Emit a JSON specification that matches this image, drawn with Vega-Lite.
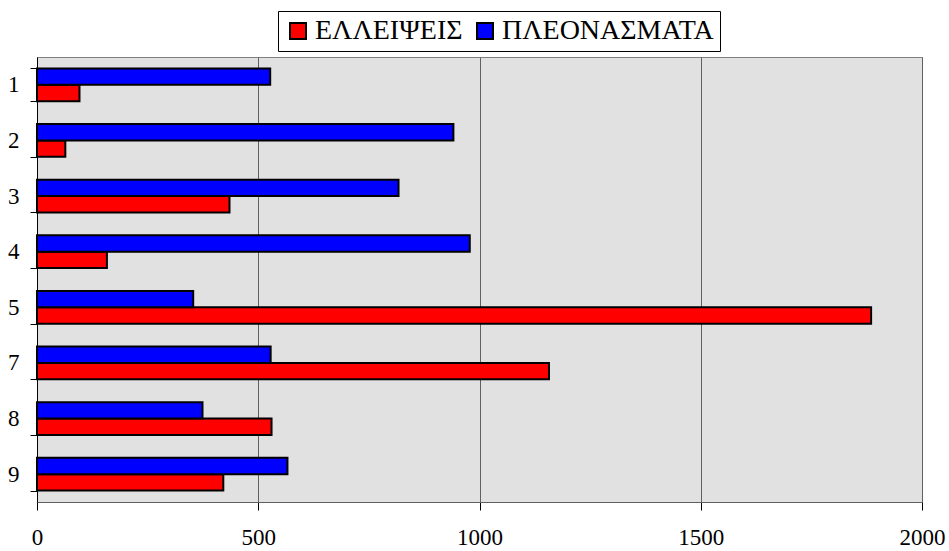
{
  "$schema": "https://vega.github.io/schema/vega-lite/v6.json",
  "autosize": {"type": "none"},
  "padding": {"left": 37, "top": 57, "right": 27, "bottom": 49},
  "width": 885,
  "height": 445,
  "background": "white",
  "config": {
    "view": {"fill": "#e1e1e1", "stroke": "#808080", "strokeWidth": 1},
    "font": "Liberation Serif"
  },
  "data": {
    "values": [
      {"cat": "1", "series": "ΕΛΛΕΙΨΕΙΣ", "value": 96},
      {"cat": "1", "series": "ΠΛΕΟΝΑΣΜΑΤΑ", "value": 527},
      {"cat": "2", "series": "ΕΛΛΕΙΨΕΙΣ", "value": 64},
      {"cat": "2", "series": "ΠΛΕΟΝΑΣΜΑΤΑ", "value": 941},
      {"cat": "3", "series": "ΕΛΛΕΙΨΕΙΣ", "value": 435},
      {"cat": "3", "series": "ΠΛΕΟΝΑΣΜΑΤΑ", "value": 817},
      {"cat": "4", "series": "ΕΛΛΕΙΨΕΙΣ", "value": 158},
      {"cat": "4", "series": "ΠΛΕΟΝΑΣΜΑΤΑ", "value": 978},
      {"cat": "5", "series": "ΕΛΛΕΙΨΕΙΣ", "value": 1885},
      {"cat": "5", "series": "ΠΛΕΟΝΑΣΜΑΤΑ", "value": 353},
      {"cat": "7", "series": "ΕΛΛΕΙΨΕΙΣ", "value": 1157},
      {"cat": "7", "series": "ΠΛΕΟΝΑΣΜΑΤΑ", "value": 528},
      {"cat": "8", "series": "ΕΛΛΕΙΨΕΙΣ", "value": 530},
      {"cat": "8", "series": "ΠΛΕΟΝΑΣΜΑΤΑ", "value": 374},
      {"cat": "9", "series": "ΕΛΛΕΙΨΕΙΣ", "value": 421},
      {"cat": "9", "series": "ΠΛΕΟΝΑΣΜΑΤΑ", "value": 566}
    ]
  },
  "mark": {"type": "bar", "stroke": "black", "strokeWidth": 2},
  "encoding": {
    "y": {
      "field": "cat",
      "type": "nominal",
      "sort": ["1", "2", "3", "4", "5", "7", "8", "9"],
      "scale": {"paddingInner": 0.41, "paddingOuter": 0.205},
      "axis": {
        "title": null,
        "tickBand": "extent",
        "tickSize": 7,
        "tickColor": "black",
        "domainColor": "black",
        "labelFont": "Liberation Serif",
        "labelFontSize": 23,
        "labelColor": "black",
        "labelPadding": 11,
        "labelAngle": 0
      }
    },
    "yOffset": {
      "field": "series",
      "type": "nominal",
      "sort": ["ΠΛΕΟΝΑΣΜΑΤΑ", "ΕΛΛΕΙΨΕΙΣ"],
      "scale": {"paddingInner": 0, "paddingOuter": 0}
    },
    "x": {
      "field": "value",
      "type": "quantitative",
      "scale": {"domain": [0, 2000], "nice": false},
      "axis": {
        "title": null,
        "values": [0, 500, 1000, 1500, 2000],
        "format": "d",
        "grid": true,
        "gridColor": "#606060",
        "gridWidth": 1,
        "tickSize": 8,
        "tickColor": "black",
        "domainColor": "#606060",
        "labelFont": "Liberation Serif",
        "labelFontSize": 23,
        "labelColor": "black",
        "labelPadding": 16,
        "labelFlush": false
      }
    },
    "color": {
      "field": "series",
      "type": "nominal",
      "scale": {"domain": ["ΕΛΛΕΙΨΕΙΣ", "ΠΛΕΟΝΑΣΜΑΤΑ"], "range": ["#ff0000", "#0000ff"]},
      "legend": {
        "title": null,
        "orient": "none",
        "direction": "horizontal",
        "legendX": 241,
        "legendY": -46,
        "symbolType": "square",
        "symbolSize": 256,
        "symbolStrokeColor": "black",
        "symbolStrokeWidth": 2,
        "symbolOpacity": 1,
        "labelFont": "Liberation Serif",
        "labelFontSize": 28,
        "labelLimit": 0,
        "labelColor": "black",
        "labelOffset": 3,
        "columnPadding": 8,
        "strokeColor": "black",
        "fillColor": "white",
        "padding": 6
      }
    }
  }
}
